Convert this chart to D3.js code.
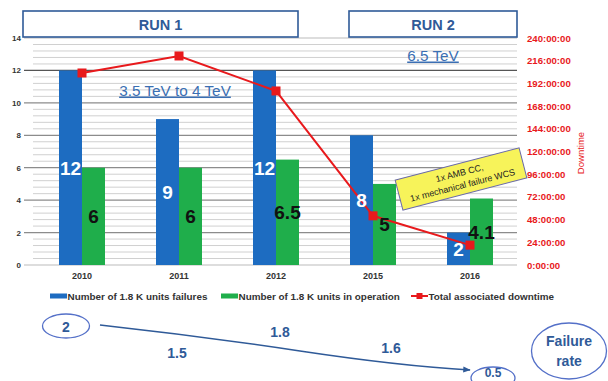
<!DOCTYPE html>
<html><head><meta charset="utf-8">
<script src="https://cdn.jsdelivr.net/npm/d3@7"></script>
<style>body{margin:0;background:#fff}svg{display:block}text{font-family:"Liberation Sans",Arial,sans-serif}</style>
</head><body><svg id="c" width="608" height="381"></svg>
<script>
const years = ["2010","2011","2012","2015","2016"];
const failures = [12, 9, 12, 8, 2];
const inOperation = [6, 6, 6.5, 5, 4.1];
const downtimeHours = [203, 221, 184, 52, 21];
const leftTicks = [0,2,4,6,8,10,12,14];
const rightTicks = [0,24,48,72,96,120,144,168,192,216,240];
const seriesNames = ["Number of 1.8 K units failures","Number of 1.8 K units in operation","Total associated downtime"];
const failureRates = ["2","1.5","1.8","1.6","0.5"];

const blue="#1d6cc1", green="#1fae4b", red="#e8191c", dblue="#2f5a98", oval="#5470c8";
const svg=d3.select("#c");
const x=d3.scaleBand().domain(years).range([33.5,518.5]);
const xs=d3.scaleBand().domain([0,1]).range([0,46]);
const yL=d3.scaleLinear().domain([0,14]).range([265,38]);
const yR=d3.scaleLinear().domain([0,240]).range([265,38]);

// grid
const minor=d3.range(0,14.01,0.4).filter(v=>Math.abs(v/2-Math.round(v/2))>0.01);
svg.append("g").selectAll("line").data(minor).join("line")
 .attr("x1",33).attr("x2",517).attr("y1",d=>yL(d)).attr("y2",d=>yL(d))
 .attr("stroke","#d0d0d0").attr("stroke-width",1);
svg.append("g").selectAll("line").data(leftTicks).join("line")
 .attr("x1",24).attr("x2",517).attr("y1",d=>yL(d)).attr("y2",d=>yL(d))
 .attr("stroke",d=>d===12?"#555":(d===0||d===14?"#bbb":"#8c8c8c")).attr("stroke-width",1.2);

// left axis
const la=svg.append("g").attr("transform","translate(24,0)").call(d3.axisLeft(yL).tickValues(leftTicks).tickSize(0).tickPadding(3));
la.select(".domain").remove();
la.selectAll("text").attr("font-size",8).attr("font-weight","bold").attr("fill","#333").attr("font-family","Liberation Sans");
// right axis
const ra=svg.append("g").attr("transform","translate(527,0)").call(d3.axisRight(yR).tickValues(rightTicks).tickSize(0).tickPadding(0).tickFormat(d=>(d===0?"0":d)+":00:00"));
ra.select(".domain").remove();
ra.selectAll("text").attr("font-size",9.6).attr("font-weight","bold").attr("fill",red).attr("font-family","Liberation Sans");
svg.append("text").attr("transform","translate(584,153) rotate(-90)").attr("text-anchor","middle")
 .attr("font-size",9.5).attr("fill",red).text("Downtime");

// x axis
const xa=svg.append("g").attr("transform","translate(0,268)").call(d3.axisBottom(x).tickSize(0).tickPadding(5));
xa.select(".domain").remove();
xa.selectAll("text").attr("font-size",9).attr("font-weight","bold").attr("fill","#333").attr("font-family","Liberation Sans");

// bars
const g=svg.append("g");
years.forEach((yr,i)=>{
  const x0=x(yr)+x.bandwidth()/2-23;
  [[failures[i],blue],[inOperation[i],green]].forEach(([v,c],k)=>{
    g.append("rect").attr("x",x0+xs(k)).attr("width",23).attr("y",yL(v)).attr("height",yL(0)-yL(v)).attr("fill",c);
  });
});
// annotation box
const ann=svg.append("g").attr("transform","translate(461,179) rotate(-14.5)");
ann.append("rect").attr("x",-64).attr("y",-15.5).attr("width",128).attr("height",31).attr("fill","#f7f35a").attr("stroke","#6a6aa8").attr("stroke-width",1);
ann.append("text").attr("text-anchor","middle").attr("y",-3).attr("font-size",9).attr("font-family","Lato").attr("fill","#222").text("1x AMB CC,");
ann.append("text").attr("text-anchor","middle").attr("y",9.5).attr("font-size",9).attr("font-family","Lato").attr("fill","#222").text("1x mechanical failure WCS");

// line
const cx=d=>x(d)+x.bandwidth()/2;
svg.append("path").datum(years.map((d,i)=>[cx(d),yR(downtimeHours[i])]))
 .attr("d",d3.line()).attr("fill","none").attr("stroke",red).attr("stroke-width",2);
svg.append("g").selectAll("rect").data(years).join("rect")
 .attr("x",d=>cx(d)-4.5).attr("y",(d,i)=>yR(downtimeHours[i])-4.5).attr("width",9).attr("height",9).attr("fill",red);

// data labels
years.forEach((yr,i)=>{
  const x0=x(yr)+x.bandwidth()/2-23;
  [[failures[i],"#fff"],[inOperation[i],"#111"]].forEach(([v,tc],k)=>{
    svg.append("text").attr("x",x0+xs(k)+11.5).attr("y",yL(v/2)).attr("dy","0.36em").attr("text-anchor","middle")
     .attr("font-size",19).attr("font-weight","bold").attr("fill",tc).text(v);
  });
});

// run boxes
[[23,298,"RUN 1"],[349,517,"RUN 2"]].forEach(([a,b,t])=>{
  svg.append("rect").attr("x",a).attr("y",11).attr("width",b-a).attr("height",26).attr("fill","#fff").attr("stroke",dblue).attr("stroke-width",1.6);
  svg.append("text").attr("x",(a+b)/2).attr("y",29.5).attr("text-anchor","middle").attr("font-size",14.5).attr("font-weight","bold").attr("fill",dblue).text(t);
});
// energy labels
[[175,95.5,"3.5 TeV to 4 TeV"],[433,60.5,"6.5 TeV"]].forEach(([px,py,t])=>{
  svg.append("text").attr("x",px).attr("y",py).attr("text-anchor","middle").attr("font-size",15.3).attr("fill","#3b6fb3")
   .attr("text-decoration","underline").text(t);
});

// legend
const leg=[[50,blue,0],[221,green,1],[411,red,2]];
leg.forEach(([lx,c,k])=>{
  if(k<2) svg.append("rect").attr("x",lx).attr("y",293.5).attr("width",17).attr("height",5).attr("fill",c);
  else {svg.append("line").attr("x1",lx).attr("x2",lx+17).attr("y1",296).attr("y2",296).attr("stroke",c).attr("stroke-width",2);
        svg.append("rect").attr("x",lx+5.5).attr("y",293).attr("width",6).attr("height",6).attr("fill",c);}
  svg.append("text").attr("x",lx+17.5).attr("y",299.8).attr("font-size",9.9).attr("font-weight","bold").attr("fill","#333").text(seriesNames[k]);
});

// failure-rate diagram
const defs=svg.append("defs");
defs.append("marker").attr("id","ah").attr("viewBox","0 0 10 10").attr("refX",9).attr("refY",5).attr("markerWidth",5).attr("markerHeight",5).attr("orient","auto")
 .append("path").attr("d","M0,1 L10,5 L0,9 Z").attr("fill",dblue);
svg.append("path").attr("d","M100,325 Q200,336 300,351 T470,370").attr("fill","none").attr("stroke",dblue).attr("stroke-width",1.5).attr("marker-end","url(#ah)");
svg.append("ellipse").attr("cx",66).attr("cy",326).attr("rx",23.5).attr("ry",12).attr("fill","none").attr("stroke",oval).attr("stroke-width",1.3);
svg.append("ellipse").attr("cx",493).attr("cy",378).attr("rx",22).attr("ry",11).attr("fill","none").attr("stroke",oval).attr("stroke-width",1.3);
svg.append("ellipse").attr("cx",569).attr("cy",351).attr("rx",37.5).attr("ry",28).attr("fill","none").attr("stroke",oval).attr("stroke-width",1.3);
const rt=[[66,331.5,14],[177,358,14],[280,337,14],[391,353,14],[493,377,12]];
rt.forEach(([px,py,fs],k)=>svg.append("text").attr("x",px).attr("y",py).attr("text-anchor","middle").attr("font-size",fs).attr("font-weight","bold").attr("fill",dblue).text(failureRates[k]));
svg.append("text").attr("x",569).attr("y",346).attr("text-anchor","middle").attr("font-size",14).attr("font-weight","bold").attr("fill",dblue).text("Failure");
svg.append("text").attr("x",569).attr("y",366).attr("text-anchor","middle").attr("font-size",14).attr("font-weight","bold").attr("fill",dblue).text("rate");
</script></body></html>
